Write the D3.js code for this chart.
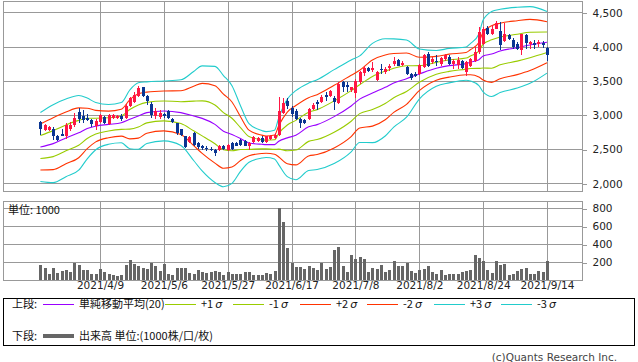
<!DOCTYPE html>
<html>
<head>
<meta charset="utf-8">
<script src="https://cdn.jsdelivr.net/npm/d3@7"></script>
<style>
  body { margin: 0; background: #fff; }
  svg { display: block; }
</style>
</head>
<body>
<script>
// === Data ===
const tickIdx    = [14, 29, 44, 59, 74, 89, 104, 119];
const tickLabels = ["2021/4/9", "2021/5/6", "2021/5/27", "2021/6/17", "2021/7/8", "2021/8/2", "2021/8/24", "2021/9/14"];
const priceTicks = [2000, 2500, 3000, 3500, 4000, 4500];
const volTicks   = [200, 400, 600, 800];

const openP  = [2895,2777,2777,2797,2689,2718,2698,2787,2846,3043,2984,2959,2920,2836,2900,2974,2861,2959,2959,2984,
                2959,3131,3191,3279,3402,3279,3166,2984,2974,3008,3058,2935,2876,2787,2689,2600,2738,2590,2541,2516,
                2507,2492,2492,2551,2492,2590,2590,2630,2615,2541,2600,2615,2664,2600,2649,2664,2713,3033,3205,3107,
                3058,2935,2925,2935,3092,3195,3191,3289,3279,3254,3181,3486,3442,3368,3318,3476,3614,3683,3658,3515,
                3673,3624,3683,3742,3796,3732,3697,3599,3599,3599,3697,3894,3771,3791,3747,3811,3845,3747,3732,3781,
                3624,3722,3781,3919,4042,4273,4180,4263,4224,4076,4165,4101,4042,3953,4175,4042,4057,4032,4057,3978];
const highP  = [2910,2861,2836,2826,2713,2787,2886,2900,3033,3107,3068,3008,2944,2935,3008,2984,3008,3008,2999,3008,
                3156,3269,3328,3417,3412,3289,3191,3107,3072,3033,3072,2959,2886,2797,2698,2689,2748,2600,2566,2541,
                2531,2507,2566,2566,2580,2600,2610,2649,2639,2600,2689,2679,2689,2698,2713,2738,3269,3254,3254,3131,
                3092,2959,2944,3107,3181,3220,3289,3338,3368,3279,3476,3501,3476,3412,3525,3648,3712,3697,3771,3648,
                3747,3697,3747,3845,3811,3781,3712,3614,3624,3747,3894,3919,3845,3870,3845,3894,3870,3820,3845,3796,
                3781,3830,3993,4288,4288,4303,4313,4372,4362,4337,4190,4126,4066,4190,4190,4076,4091,4091,4076,3993];
const lowP   = [2703,2767,2767,2630,2615,2689,2649,2762,2826,2886,2886,2910,2826,2777,2886,2861,2846,2944,2935,2910,
                2944,3122,3181,3269,3269,3146,2959,2935,2935,2959,2935,2886,2713,2698,2516,2590,2551,2507,2492,2467,
                2467,2403,2477,2482,2477,2492,2541,2551,2541,2482,2590,2600,2590,2590,2639,2649,2698,3008,3082,2974,
                2925,2812,2861,2925,3072,3072,3181,3205,3269,3072,3156,3328,3338,3338,3254,3451,3565,3624,3624,3501,
                3599,3599,3648,3722,3712,3712,3584,3515,3550,3584,3683,3697,3747,3722,3722,3781,3732,3673,3673,3673,
                3574,3697,3771,3894,4017,4175,4165,4253,3943,4066,4091,3968,3943,3870,3958,3968,3968,3993,3978,3781];
const closeP = [2787,2846,2826,2689,2639,2698,2846,2846,2959,2944,2925,2925,2861,2910,2999,2886,2999,2999,2984,2935,
                3131,3254,3289,3387,3279,3205,2994,3058,3033,2984,2959,2895,2738,2713,2531,2674,2566,2531,2521,2507,
                2492,2443,2551,2502,2566,2502,2551,2566,2551,2590,2674,2664,2600,2689,2698,2713,3058,3181,3131,3008,
                2944,2876,2886,3092,3141,3156,3269,3264,3353,3191,3451,3402,3402,3402,3491,3633,3683,3648,3688,3624,
                3658,3673,3722,3781,3722,3761,3599,3535,3574,3732,3870,3722,3820,3771,3830,3870,3747,3781,3796,3683,
                3771,3811,3919,4214,4263,4190,4249,4337,4027,4190,4116,3993,3968,4180,4057,4066,4017,4066,4017,3880];
const volume = [165,136,66,132,77,99,106,88,187,165,110,110,62,70,121,92,66,51,40,55,
                165,220,176,158,136,121,191,158,99,176,66,55,136,128,136,73,66,110,92,81,
                92,99,84,55,88,66,66,66,88,88,51,55,55,77,70,99,795,650,356,191,
                147,147,121,158,136,110,191,121,147,330,367,154,92,275,231,253,231,84,136,121,
                165,92,110,209,158,158,194,103,81,114,125,154,92,66,110,55,66,66,66,88,
                99,110,275,246,209,110,81,209,165,176,59,66,99,125,132,62,70,99,88,209];

// Bollinger(20): moving average and sigma read at these candle positions
const bandIdx   = [0,3,6,9,11,13,16,19,21,23,25,29,33,36,38,41,43,45,47,49,52,53,55,56,58,60,
                   63,65,69,73,75,78,81,83,86,89,93,96,100,101,103,104,106,108,112,115,119];
const smaVal    = [2531,2580,2664,2738,2802,2836,2861,2886,2935,2984,3033,3058,3033,2984,2949,2861,2762,2713,2654,2590,2570,2566,2566,2615,2664,2703,
                   2826,2858,2975,3131,3230,3320,3403,3467,3530,3598,3681,3720,3750,3770,3806,3861,3890,3935,3983,4022,4061];
const sigmaVal  = [168,190,189,182,148,115,97,98,143,162,150,146,160,217,256,283,271,238,160,94,67,63,70,115,189,217,
                   213,219,229,224,211,242,237,215,188,122,87,84,81,91,126,175,207,203,197,187,150];

const bands = [
  {k: 0,  color: "#9900ff"},
  {k: 1,  color: "#99cc00"}, {k: -1, color: "#99cc00"},
  {k: 2,  color: "#ff3300"}, {k: -2, color: "#ff3300"},
  {k: 3,  color: "#22cccc"}, {k: -3, color: "#22cccc"}
];

// === Layout ===
const W = 638, H = 362;
const plotL = 3, plotR = 582;
const pTop = 1, pBot = 191, vTop = 201, vBot = 280;
const NUM_FONT = "DejaVu Sans";
const JP_FONT = "Noto Sans CJK JP";
const UP = "#ff1744", DOWN = "#0a3592", GRID = "#999";

const svg = d3.select("body").append("svg").attr("width", W).attr("height", H);

const x  = d3.scaleLinear().domain([0, 119]).range([40.4, 547]);
const yP = d3.scaleLinear().domain([2000, 4500]).range([183.3, 12.3]);
const yV = d3.scaleLinear().domain([0, 800]).range([vBot, 208]);
const px = v => Math.round(v) + 0.5;

// --- grid & frames ---
function frame(top, bot, yScale, ticks, fmt) {
  const g = svg.append("g").attr("shape-rendering", "crispEdges");
  g.selectAll(".hg").data(ticks).join("line")
    .attr("x1", plotL).attr("x2", plotR)
    .attr("y1", d => px(yScale(d))).attr("y2", d => px(yScale(d)))
    .attr("stroke", GRID);
  g.selectAll(".vg").data(tickIdx).join("line")
    .attr("x1", d => px(x(d))).attr("x2", d => px(x(d)))
    .attr("y1", top).attr("y2", bot)
    .attr("stroke", GRID);
  g.append("rect")
    .attr("x", plotL + 0.5).attr("y", top + 0.5)
    .attr("width", plotR - plotL).attr("height", bot - top)
    .attr("fill", "none").attr("stroke", GRID);

  const ax = svg.append("g")
    .attr("transform", `translate(${plotR + 0.5},0.5)`)
    .call(d3.axisRight(yScale).tickValues(ticks).tickFormat(fmt).tickSize(4).tickPadding(6));
  ax.select(".domain").remove();
  ax.selectAll("line").attr("stroke", GRID).attr("shape-rendering", "crispEdges");
  ax.selectAll("text").attr("font-family", NUM_FONT).attr("font-size", 10.5).attr("fill", "#222");
}
frame(pTop, pBot, yP, priceTicks, d3.format(","));
frame(vTop, vBot, yV, volTicks, d3.format("d"));

// --- bands ---
const bandPts = bandIdx.map((d, i) => ({i: d, m: smaVal[i], s: sigmaVal[i]}));
const bandLine = k => d3.line()
  .x(d => x(d.i))
  .y(d => yP(d.m + k * d.s))
  .curve(d3.curveMonotoneX);

svg.append("g").selectAll("path").data(bands).join("path")
  .attr("fill", "none")
  .attr("stroke", d => d.color)
  .attr("stroke-width", 1.1)
  .attr("d", d => bandLine(d.k)(bandPts));

// --- candles ---
const candles = openP.map((o, i) => ({i, o, h: highP[i], l: lowP[i], c: closeP[i]}));
const cg = svg.append("g").attr("shape-rendering", "crispEdges");
cg.selectAll(".wick").data(candles).join("line")
  .attr("x1", d => px(x(d.i))).attr("x2", d => px(x(d.i)))
  .attr("y1", d => yP(d.h)).attr("y2", d => yP(d.l))
  .attr("stroke", d => d.c >= d.o ? UP : DOWN);
cg.selectAll(".body").data(candles).join("rect")
  .attr("x", d => Math.round(x(d.i)) - 1)
  .attr("width", 3)
  .attr("y", d => yP(Math.max(d.o, d.c)))
  .attr("height", d => Math.max(1, Math.abs(yP(d.o) - yP(d.c))))
  .attr("fill", d => d.c >= d.o ? UP : DOWN);

// --- volume ---
svg.append("g").attr("shape-rendering", "crispEdges")
  .selectAll("rect").data(volume).join("rect")
  .attr("x", (d, i) => Math.round(x(i)) - 1)
  .attr("width", 3)
  .attr("y", d => yV(d))
  .attr("height", d => vBot - yV(d))
  .attr("fill", "#666");

svg.append("text").attr("x", 8).attr("y", 213.5)
  .attr("font-family", JP_FONT).attr("font-size", 11).attr("fill", "#111")
  .text("単位: 1000");

// --- date labels ---
const xa = svg.append("g")
  .attr("transform", `translate(0,${vBot})`)
  .call(d3.axisBottom(x).tickValues(tickIdx).tickFormat((d, i) => tickLabels[i]).tickSize(0).tickPadding(1.5));
xa.select(".domain").remove();
xa.selectAll("text").attr("font-family", NUM_FONT).attr("font-size", 10.5).attr("fill", "#222");

// --- legend ---
svg.append("rect").attr("x", 3.5).attr("y", 298.5).attr("width", 631).attr("height", 47)
  .attr("fill", "none").attr("stroke", "#000").attr("shape-rendering", "crispEdges");

const legendItems = [
  {x0: 43,  label: "単純移動平均(20)", sig: "", color: "#9900ff"},
  {x0: 165, label: "+1", sig: "σ", color: "#99cc00"},
  {x0: 233, label: "-1", sig: "σ", color: "#99cc00"},
  {x0: 300, label: "+2", sig: "σ", color: "#ff3300"},
  {x0: 367, label: "-2", sig: "σ", color: "#ff3300"},
  {x0: 434, label: "+3", sig: "σ", color: "#22cccc"},
  {x0: 501, label: "-3", sig: "σ", color: "#22cccc"}
];
const lg = svg.append("g").attr("font-family", JP_FONT).attr("font-size", 11).attr("fill", "#111");
lg.append("text").attr("x", 12).attr("y", 304).attr("dy", "0.35em").text("上段:");
lg.selectAll(".li").data(legendItems).join("line")
  .attr("x1", d => d.x0).attr("x2", d => d.x0 + 31)
  .attr("y1", 304.5).attr("y2", 304.5)
  .attr("stroke", d => d.color).attr("shape-rendering", "crispEdges");
const lt = lg.selectAll(".lt").data(legendItems).join("text")
  .attr("x", d => d.x0 + 36).attr("y", 304).attr("dy", "0.35em");
lt.append("tspan").text(d => d.label);
lt.append("tspan").attr("dx", 2).attr("font-style", "italic").attr("font-family", NUM_FONT).text(d => d.sig);

lg.append("text").attr("x", 12).attr("y", 336).attr("dy", "0.35em").text("下段:");
lg.append("rect").attr("x", 43).attr("y", 334).attr("width", 31).attr("height", 4).attr("fill", "#666");
lg.append("text").attr("x", 79).attr("y", 336).attr("dy", "0.35em").text("出来高 単位:(1000株/口/枚)");

svg.append("text").attr("x", 617).attr("y", 360.5).attr("text-anchor", "end")
  .attr("font-family", NUM_FONT).attr("font-size", 10.5).attr("fill", "#444")
  .text("(c)Quants Research Inc.");
</script>
</body>
</html>
